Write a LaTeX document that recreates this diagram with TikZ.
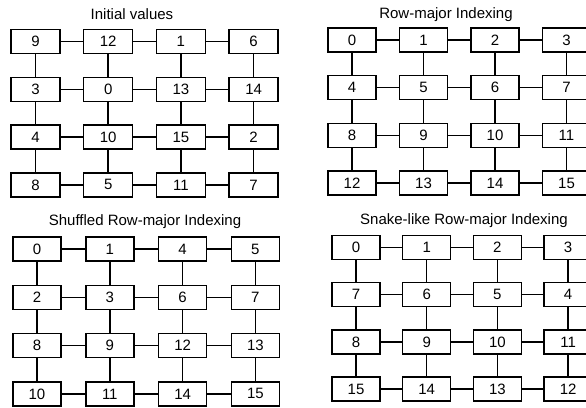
\documentclass[tikz,border=0pt]{standalone}
\usepackage{fontspec}
\setmainfont{Liberation Sans}
\newcommand\mygrid[7]{% #1 prefix, #2 x0, #3 dx, #4 y0, #5 dy, #6 rows of values, #7 width
  \foreach \rowvals [count=\r] in {#6} {
    \foreach \v [count=\c] in \rowvals {
      \node[cell, minimum width=#7] (#1-\r-\c) at ({#2+(\c-1)*#3},{#4+(\r-1)*#5}) {\v};
    }
  }
  \foreach \r in {1,...,4} {
    \foreach \c in {1,2,3} {
      \pgfmathtruncatemacro\cn{\c+1}
      \draw[link] (#1-\r-\c.east) -- (#1-\r-\cn.west);
    }
  }
  \foreach \r in {1,2,3} {
    \pgfmathtruncatemacro\rn{\r+1}
    \foreach \c in {1,...,4} {
      \draw[link] (#1-\r-\c.south) -- (#1-\rn-\c.north);
    }
  }
}
\begin{document}
\begin{tikzpicture}[x=1pt,y=-1pt,
  cell/.style={draw, line width=1.5pt, minimum height=24pt, inner sep=0pt, font=\fontsize{15}{15}\selectfont},
  link/.style={line width=1.5pt},
  ttl/.style={inner sep=0pt, font=\fontsize{15}{15}\selectfont}]
\useasboundingbox (0,0) rectangle (586,407);
\node[ttl] (tA) at (132,14) {Initial values};
\node[ttl] (tB) at (446,15) {Row-major Indexing};
\node[ttl] (tC) at (145,222) {Shuffled Row-major Indexing};
\node[ttl] (tD) at (464,221) {Snake-like Row-major Indexing};
\mygrid{A}{35.5}{72.7}{41.5}{47.8}{{9,12,1,6},{3,0,13,14},{4,10,15,2},{8,5,11,7}}{49pt}
\mygrid{B}{352}{71.5}{40}{47.7}{{0,1,2,3},{4,5,6,7},{8,9,10,11},{12,13,14,15}}{48pt}
\mygrid{C}{37}{72.8}{249}{48.3}{{0,1,4,5},{2,3,6,7},{8,9,12,13},{10,11,14,15}}{48pt}
\mygrid{D}{356}{70.7}{247.5}{47.2}{{0,1,2,3},{7,6,5,4},{8,9,10,11},{15,14,13,12}}{48pt}
\end{tikzpicture}
\end{document}
